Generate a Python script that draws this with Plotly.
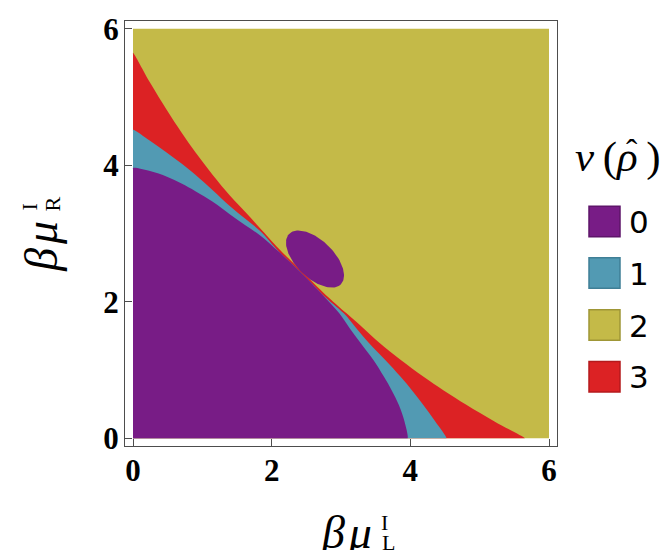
import plotly.graph_objects as go
import numpy as np

# ---- data -----------------------------------------------------------------
# Region boundaries, lower-right half (from the x axis up to the diagonal);
# the picture is symmetric under x <-> y, so the upper-left half is mirrored.
inner_x = [3.96, 3.916, 3.833, 3.732, 3.62, 3.465, 3.28, 3.12, 2.975, 2.735, 2.585, 2.425]
inner_y = [0.00, 0.245, 0.49, 0.70, 0.90, 1.15, 1.40, 1.62, 1.83, 2.10, 2.26, 2.425]

middle_x = [4.52, 4.36, 4.185, 4.025, 3.86, 3.635, 3.40, 3.215, 3.04, 2.738, 2.587, 2.426]
middle_y = [0.00, 0.245, 0.49, 0.70, 0.90, 1.15, 1.40, 1.62, 1.83, 2.10, 2.26, 2.426]

outer_x = [5.65, 5.214, 4.807, 4.481, 4.191, 3.858, 3.553, 3.315, 3.08, 2.78, 2.617, 2.438]
outer_y = [0.00, 0.245, 0.49, 0.70, 0.90, 1.15, 1.40, 1.62, 1.83, 2.10, 2.26, 2.438]

# island of nu = 0 (ellipse: centre, semi-axes, tilt)
island_center = (2.625, 2.625)
island_axes = (0.525, 0.273)
island_angle_deg = -45

levels = ["0", "1", "2", "3"]
level_colors = ["#781c86", "#529ab3", "#c4ba48", "#dc2224"]
level_edges = ["#5e146a", "#3f7f96", "#9f9636", "#b51a1c"]

x_ticks = [0, 2, 4, 6]
y_ticks = [0, 2, 4, 6]
domain = (0, 6)

EPS = 0.02  # tiny offsets so the spline keeps sharp corners


def full_curve(xs, ys):
    cx = list(xs) + [y for y in ys[::-1][1:]]
    cy = list(ys) + [x for x in xs[::-1][1:]]
    return cx, cy


def region_below(xs, ys):
    cx, cy = full_curve(xs, ys)
    px_ = [0, EPS, cx[0] - EPS] + cx + [0, 0]
    py_ = [0, 0, 0] + cy + [cy[-1] - EPS, EPS]
    return px_, py_


fig = go.Figure()

# level 2 fills the square
fig.add_trace(go.Scatter(x=[domain[0], domain[1], domain[1], domain[0], domain[0]],
                         y=[domain[0], domain[0], domain[1], domain[1], domain[0]],
                         mode="lines", fill="toself", fillcolor=level_colors[2],
                         line=dict(width=0, color=level_colors[2]),
                         hoverinfo="skip", showlegend=False))
for (bx, by), col in [((outer_x, outer_y), level_colors[3]),
                      ((middle_x, middle_y), level_colors[1]),
                      ((inner_x, inner_y), level_colors[0])]:
    px_, py_ = region_below(bx, by)
    fig.add_trace(go.Scatter(x=px_, y=py_, mode="lines", fill="toself",
                             fillcolor=col,
                             line=dict(width=0, color=col, shape="spline", smoothing=1),
                             hoverinfo="skip", showlegend=False))

t = np.linspace(0, 2 * np.pi, 121)
a, b = island_axes
th = np.deg2rad(island_angle_deg)
ex = island_center[0] + a * np.cos(t) * np.cos(th) - b * np.sin(t) * np.sin(th)
ey = island_center[1] + a * np.cos(t) * np.sin(th) + b * np.sin(t) * np.cos(th)
fig.add_trace(go.Scatter(x=ex, y=ey, mode="lines", fill="toself",
                         fillcolor=level_colors[0], line=dict(width=0, color=level_colors[0]),
                         hoverinfo="skip", showlegend=False))

# ---- layout -----------------------------------------------------------------
W, H = 662, 550
L, R, T, B = 125, 557, 13, 446


def fx(px):
    return (px - L) / (R - L)


def fy(py):
    return (B - py) / (B - T)


pad = 8 / ((R - L - 16) / 6)
axis_common = dict(showline=True, linecolor="#4d4d4d", linewidth=1, mirror=True,
                   ticks="inside", ticklen=7, tickwidth=1, tickcolor="#4d4d4d",
                   showgrid=False, zeroline=False,
                   tickfont=dict(family="Liberation Serif", size=31, color="black", weight="bold"))

fig.update_layout(
    width=W, height=H,
    margin=dict(l=L, r=W - R, t=T, b=H - B, pad=0),
    plot_bgcolor="white", paper_bgcolor="white",
    showlegend=False,
    xaxis=dict(range=[-pad, 6 + pad], tickvals=x_ticks, ticktext=[str(v) for v in x_ticks],
               ticklabelstandoff=-3, **axis_common),
    yaxis=dict(range=[-pad, 6 + pad], tickvals=y_ticks, ticktext=[str(v) for v in y_ticks],
               ticklabelstandoff=-1, **axis_common),
)

serif = "Liberation Serif"
ann = []
# x-axis title  beta mu_L^I
ann.append(dict(text="<i>β\u200aμ</i>", x=fx(346), y=fy(534), font=dict(family=serif, size=46)))
ann.append(dict(text="I", x=fx(384), y=fy(524), font=dict(family=serif, size=22)))
ann.append(dict(text="L", x=fx(388), y=fy(544), font=dict(family=serif, size=22)))
# y-axis title  beta mu_R^I (rotated)
ann.append(dict(text="<i>β\u200aμ</i>", x=fx(42), y=fy(243), textangle=-90, font=dict(family=serif, size=46)))
ann.append(dict(text="I", x=fx(29), y=fy(203), textangle=-90, font=dict(family=serif, size=22)))
ann.append(dict(text="R", x=fx(53), y=fy(200), textangle=-90, font=dict(family=serif, size=22)))
# legend title  nu(rho-hat)
ann.append(dict(text="<i>ν</i>\u2009(<i>ρ</i>\u2009)", x=fx(618), y=fy(152), font=dict(family=serif, size=43)))
ann.append(dict(text="ˆ", x=fx(632), y=fy(146), font=dict(family=serif, size=34)))

shapes = []
sw_top = [201.7, 254.3, 307.3, 360.0]
for lev, col, edge, top in zip(levels, level_colors, level_edges, sw_top):
    shapes.append(dict(type="rect", xref="paper", yref="paper",
                       x0=fx(589), x1=fx(620), y0=fy(top + 31), y1=fy(top),
                       fillcolor=col, line=dict(color=edge, width=1.5)))
    ann.append(dict(text=lev, x=fx(627), y=fy(top + 16), xanchor="left",
                    font=dict(family="DejaVu Sans", size=31, color="black")))

for a_ in ann:
    a_.setdefault("xanchor", "center")
    a_.update(xref="paper", yref="paper", yanchor="middle", showarrow=False)
    a_["font"].setdefault("color", "black")

fig.update_layout(annotations=ann, shapes=shapes)
fig.write_html("out.html", config={"displayModeBar": False},
               post_script="document.body.style.margin='0px';")
